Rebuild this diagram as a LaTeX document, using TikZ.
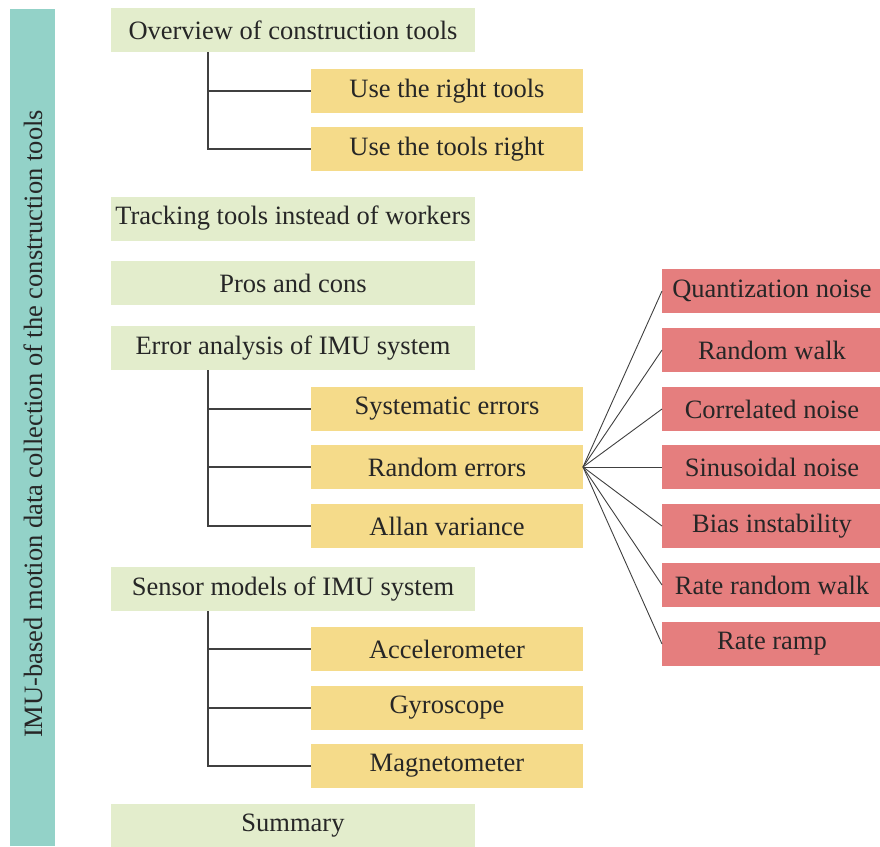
\documentclass[tikz,border=0pt]{standalone}
\usepackage{fontspec}
\setmainfont{Liberation Serif}
\begin{document}
\begin{tikzpicture}[x=1pt,y=-1pt,
  every node/.style={inner sep=0pt, outer sep=0pt, text=black!85, font=\fontsize{26.5}{30}\selectfont},
  topic/.style={fill=topicgreen, minimum width=364pt, minimum height=44pt},
  sub/.style={fill=subyellow, minimum width=272pt, minimum height=44pt},
  leaf/.style={fill=leafred, minimum width=220pt, minimum height=44pt},
  link/.style={draw=black!75, line width=1.1pt}]
\definecolor{barteal}{HTML}{93D2C8}
\definecolor{topicgreen}{HTML}{E3EDCC}
\definecolor{subyellow}{HTML}{F5DB8A}
\definecolor{leafred}{HTML}{E57E7E}
\useasboundingbox (0,0) rectangle (880,846);
% side title bar
\fill[barteal] (10,9) rectangle (55,846);
\node[rotate=90] (title) at (33,424) {IMU-based motion data collection of the construction tools};
% main topics
\node[topic] (over) at (293,30) {Overview of construction tools};
\node[topic] (track) at (293,218.5) {Tracking tools instead of workers};
\node[topic] (pros) at (293,283) {Pros and cons};
\node[topic] (err) at (293,348) {Error analysis of IMU system};
\node[topic] (sens) at (293,589) {Sensor models of IMU system};
\node[topic] (summ) at (293,826) {Summary};
% subtopics
\node[sub] (right) at (447,91) {Use the right tools};
\node[sub] (tools) at (447,149) {Use the tools right};
\node[sub] (sys) at (447,409) {Systematic errors};
\node[sub] (rand) at (447,467) {Random errors};
\node[sub] (allan) at (447,526) {Allan variance};
\node[sub] (acc) at (447,649) {Accelerometer};
\node[sub] (gyro) at (447,708) {Gyroscope};
\node[sub] (mag) at (447,766) {Magnetometer};
% noise terms
\node[leaf] (q) at (772,291) {Quantization noise};
\node[leaf] (rw) at (772,350) {Random walk};
\node[leaf] (cn) at (772,409) {Correlated noise};
\node[leaf] (sn) at (772,467) {Sinusoidal noise};
\node[leaf] (bi) at (772,526) {Bias instability};
\node[leaf] (rrw) at (772,585) {Rate random walk};
\node[leaf] (rr) at (772,644) {Rate ramp};
% tree connectors
\draw[link] (over.south -| 208,0) |- (right.west);
\draw[link] (over.south -| 208,0) |- (tools.west);
\draw[link] (err.south -| 208,0) |- (sys.west);
\draw[link] (err.south -| 208,0) |- (rand.west);
\draw[link] (err.south -| 208,0) |- (allan.west);
\draw[link] (sens.south -| 208,0) |- (acc.west);
\draw[link] (sens.south -| 208,0) |- (gyro.west);
\draw[link] (sens.south -| 208,0) |- (mag.west);
% fan from random errors
\foreach \t in {q,rw,cn,sn,bi,rrw,rr}
  \draw[link, line width=0.9pt] (rand.east) -- (\t.west);
\end{tikzpicture}
\end{document}
